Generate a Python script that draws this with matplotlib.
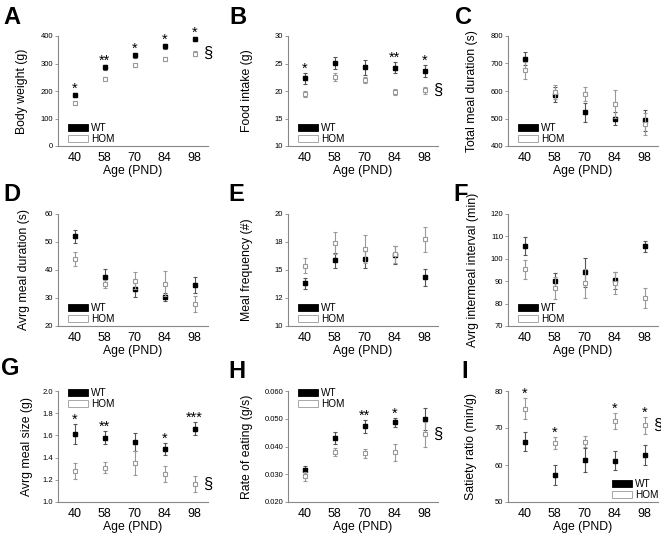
import matplotlib
matplotlib.use("Agg")
import matplotlib.pyplot as plt
from matplotlib.patches import Patch
from matplotlib.ticker import FormatStrFormatter
import numpy as np

plt.rcParams['font.family'] = ['Liberation Sans', 'DejaVu Sans']

ages = ['40', '58', '70', '84', '98']

A_wt = [185, 286, 330, 362, 389]
A_wt_err = [8, 8, 9, 10, 9]
A_hom = [155, 245, 293, 317, 336]
A_hom_err = [6, 6, 6, 7, 8]
A_stars = ['*', '**', '*', '*', '*']

B_wt = [22.3, 25.1, 24.3, 24.2, 23.7]
B_wt_err = [1.0, 1.1, 1.35, 1.0, 1.1]
B_hom = [19.5, 22.55, 22.0, 19.9, 20.1]
B_hom_err = [0.5, 0.8, 0.6, 0.55, 0.7]
B_stars = ['*', '', '', '**', '*']

C_wt = [718, 587, 523, 500, 494]
C_wt_err = [25, 28, 35, 25, 38]
C_hom = [675, 597, 590, 552, 480]
C_hom_err = [32, 25, 25, 50, 40]
C_stars = ['', '', '', '', '']

D_wt = [52.0, 37.5, 33.1, 30.5, 34.7]
D_wt_err = [2.2, 2.7, 2.6, 1.4, 2.9]
D_hom = [44.0, 35.0, 36.2, 35.1, 27.9]
D_hom_err = [2.5, 1.5, 3.0, 4.5, 2.8]
D_stars = ['', '', '', '', '']

E_wt = [13.8, 15.85, 15.95, 16.3, 14.35]
E_wt_err = [0.47, 0.65, 0.75, 0.8, 0.74]
E_hom = [15.4, 17.4, 16.85, 16.4, 17.75]
E_hom_err = [0.7, 1.0, 1.25, 0.75, 1.1]
E_stars = ['', '', '', '', '']

F_wt = [105.8, 90.1, 93.9, 90.4, 105.5]
F_wt_err = [4.1, 3.4, 6.4, 3.9, 2.5]
F_hom = [95.4, 87.0, 89.0, 89.2, 82.4]
F_hom_err = [4.2, 4.9, 6.5, 5.0, 4.4]
F_stars = ['', '', '', '', '']

G_wt = [1.61, 1.58, 1.54, 1.48, 1.66]
G_wt_err = [0.09, 0.06, 0.08, 0.055, 0.06]
G_hom = [1.28, 1.31, 1.35, 1.25, 1.16]
G_hom_err = [0.07, 0.05, 0.11, 0.07, 0.07]
G_stars = ['*', '**', '', '*', '***']

H_wt = [0.0314, 0.0432, 0.0473, 0.0487, 0.0499]
H_wt_err = [0.0015, 0.0022, 0.0023, 0.0016, 0.0040]
H_hom = [0.0293, 0.0380, 0.0376, 0.0379, 0.0445]
H_hom_err = [0.0016, 0.0016, 0.0016, 0.0030, 0.0045]
H_stars = ['', '', '**', '*', '']

I_wt = [66.3, 57.3, 61.4, 61.2, 62.7]
I_wt_err = [2.6, 2.6, 3.2, 2.6, 2.6]
I_hom = [75.2, 65.9, 66.3, 71.9, 70.7]
I_hom_err = [2.8, 1.6, 1.5, 2.2, 2.3]
I_stars = ['*', '*', '', '*', '*']

panels = [
    dict(letter='A', ylabel='Body weight (g)', wt=A_wt, wte=A_wt_err, hom=A_hom, home=A_hom_err,
         stars=A_stars, sect=True, yt=[0, 100, 200, 300, 400], fmt='%.0f', leg='lower left'),
    dict(letter='B', ylabel='Food intake (g)', wt=B_wt, wte=B_wt_err, hom=B_hom, home=B_hom_err,
         stars=B_stars, sect=True, yt=[10, 15, 20, 25, 30], fmt='%.0f', leg='lower left'),
    dict(letter='C', ylabel='Total meal duration (s)', wt=C_wt, wte=C_wt_err, hom=C_hom, home=C_hom_err,
         stars=C_stars, sect=False, yt=[400, 500, 600, 700, 800], fmt='%.0f', leg='lower left'),
    dict(letter='D', ylabel='Avrg meal duration (s)', wt=D_wt, wte=D_wt_err, hom=D_hom, home=D_hom_err,
         stars=D_stars, sect=False, yt=[20, 30, 40, 50, 60], fmt='%.0f', leg='lower left'),
    dict(letter='E', ylabel='Meal frequency (#)', wt=E_wt, wte=E_wt_err, hom=E_hom, home=E_hom_err,
         stars=E_stars, sect=False, yt=[10, 12.5, 15, 17.5, 20], fmt='%.0f', leg='lower left'),
    dict(letter='F', ylabel='Avrg intermeal interval (min)', wt=F_wt, wte=F_wt_err, hom=F_hom, home=F_hom_err,
         stars=F_stars, sect=False, yt=[70, 80, 90, 100, 110, 120], fmt='%.0f', leg='lower left'),
    dict(letter='G', ylabel='Avrg meal size (g)', wt=G_wt, wte=G_wt_err, hom=G_hom, home=G_hom_err,
         stars=G_stars, sect=True, yt=[1.0, 1.2, 1.4, 1.6, 1.8, 2.0], fmt='%.1f', leg='upper left'),
    dict(letter='H', ylabel='Rate of eating (g/s)', wt=H_wt, wte=H_wt_err, hom=H_hom, home=H_hom_err,
         stars=H_stars, sect=True, yt=[0.02, 0.03, 0.04, 0.05, 0.06], fmt='%.3f', leg='upper left'),
    dict(letter='I', ylabel='Satiety ratio (min/g)', wt=I_wt, wte=I_wt_err, hom=I_hom, home=I_hom_err,
         stars=I_stars, sect=True, yt=[50, 60, 70, 80], fmt='%.0f', leg='lower right'),
]

W, H = 661, 537
fig = plt.figure(figsize=(W / 100, H / 100), dpi=100)

col_left = [58, 288, 508]
row_tb = [(36, 146), (214, 326), (391, 502)]
ax_w = 150
letter_pos = [(3, 6), (229, 6), (455, 6), (3, 183), (228, 183), (453, 183), (1, 357), (228, 360), (461, 360)]
ylab_off = [30, 35, 30, 28, 35, 29, 25, 35, 31]

spine_col = '#888888'
x = np.arange(len(ages))

for i, p in enumerate(panels):
    r, c = divmod(i, 3)
    top, bot = row_tb[r]
    left = col_left[c]
    ax = fig.add_axes([left / W, 1 - bot / H, ax_w / W, (bot - top) / H])
    ax.errorbar(x, p['wt'], yerr=p['wte'], fmt='s', ms=3.0, mfc='black', mec='black',
                ecolor='#555555', elinewidth=0.8, capsize=1.3, capthick=0.8, zorder=3)
    ax.errorbar(x, p['hom'], yerr=p['home'], fmt='s', ms=3.0, mfc='white', mec='#999999', mew=0.8,
                ecolor='#999999', elinewidth=0.8, capsize=1.3, capthick=0.8, zorder=4)
    ax.set_xlim(-0.55, 4.45)
    ax.set_ylim(p['yt'][0], p['yt'][-1])
    ax.set_yticks(p['yt'])
    ax.yaxis.set_major_formatter(FormatStrFormatter(p['fmt']))
    ax.set_xticks(x)
    ax.set_xticklabels(ages)
    ax.tick_params(axis='x', length=0, labelsize=9, pad=4)
    ax.tick_params(axis='y', length=2, width=0.6, color=spine_col, labelsize=5.5, pad=1.5)
    for s in ['top', 'right']:
        ax.spines[s].set_visible(False)
    for s in ['left', 'bottom']:
        ax.spines[s].set_color(spine_col)
        ax.spines[s].set_linewidth(0.8)
    ax.set_xlabel('Age (PND)', fontsize=8.8, labelpad=1)
    ax.set_ylabel(p['ylabel'], fontsize=8.8)
    ax.yaxis.set_label_coords(-ylab_off[i] / ax_w, 0.5)
    # stars
    for k, s in enumerate(p['stars']):
        if s:
            ytop = max(p['wt'][k] + p['wte'][k], p['hom'][k] + p['home'][k])
            ax.annotate(s, (x[k], ytop), xytext=(0, -2), textcoords='offset points',
                        ha='center', va='bottom', fontsize=10.5)
    if p['sect']:
        ax.annotate('§', (x[4], p['hom'][4]), xytext=(6, 0), textcoords='offset points',
                    ha='left', va='center', fontsize=12, annotation_clip=False)
    handles = [Patch(facecolor='black', edgecolor='black', linewidth=0.6, label='WT'),
               Patch(facecolor='white', edgecolor='#999999', linewidth=0.6, label='HOM')]
    if p['leg'] == 'lower left':
        bb = (0.04, -0.02)
    elif p['leg'] == 'upper left':
        bb = (0.04, 1.06)
    else:
        bb = (1.03, -0.02)
    ax.legend(handles=handles, loc=p['leg'], bbox_to_anchor=bb, frameon=False, fontsize=7.2,
              handlelength=2.0, handleheight=0.7, handletextpad=0.3, labelspacing=0.1,
              borderaxespad=0.2, borderpad=0.2)
    lx, ly = letter_pos[i]
    fig.text(lx / W, 1 - ly / H, p['letter'], fontsize=17, fontweight='bold', ha='left', va='top')

fig.savefig('out.png', dpi=100)
